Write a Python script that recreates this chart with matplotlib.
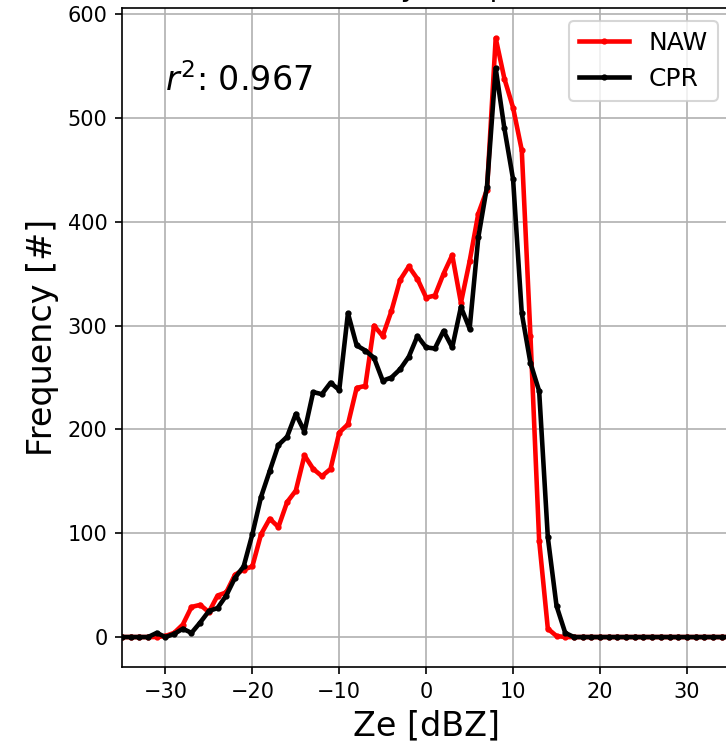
import numpy as np
import matplotlib
matplotlib.use("Agg")
import matplotlib.pyplot as plt

# reflectivity bins [dBZ]
ze_bins = list(range(-35, 36))

# frequency counts per bin
naw = [0, 0, 0, 0, 0, 1, 4, 12, 29, 31,
       24, 40, 43, 60, 65, 68, 99, 114, 106, 130,
       141, 175, 162, 155, 162, 197, 205, 240, 242, 300,
       290, 314, 344, 357, 345, 327, 329, 350, 368, 322,
       362, 408, 431, 577, 538, 510, 469, 290, 93, 8,
       1, 0, 0, 0, 0, 0, 0, 0, 0, 0,
       0, 0, 0, 0, 0, 0, 0, 0, 0, 0, 0]
cpr = [0, 0, 0, 0, 4, 0, 3, 8, 4, 14,
       25, 28, 40, 57, 68, 99, 135, 160, 185, 193,
       215, 198, 236, 234, 245, 238, 312, 281, 276, 269,
       247, 250, 258, 270, 290, 279, 278, 295, 279, 318,
       297, 385, 434, 548, 490, 441, 312, 264, 237, 96,
       30, 4, 0, 0, 0, 0, 0, 0, 0, 0,
       0, 0, 0, 0, 0, 0, 0, 0, 0, 0, 0]
r2 = 0.967

fig = plt.figure(figsize=(726 / 150, 744 / 150), dpi=150)
ax = fig.add_axes([0.168, 0.1035, 0.838, 0.8855])

ax.plot(ze_bins, naw, color='red', marker='.', ms=4, lw=2.2, label='NAW')
ax.plot(ze_bins, cpr, color='black', marker='.', ms=4, lw=2.2, label='CPR')

ax.set_xlim(-35, 35)
ax.set_xticks([-30, -20, -10, 0, 10, 20, 30])
ax.set_yticks([0, 100, 200, 300, 400, 500, 600])
ax.grid(True)
ax.legend(loc='upper right', fontsize=12)
ax.text(-30, 526, r'$r^2$: ' + f'{r2:.3f}', fontsize=16)

# title sits mostly above the figure edge, as in the reference crop
ax.set_title('Reflectivity comparison', fontsize=14)
ax.set_xlabel('Ze [dBZ]', fontsize=16)
ax.set_ylabel('Frequency [#]', fontsize=16)

fig.savefig('out.png', dpi=150)
